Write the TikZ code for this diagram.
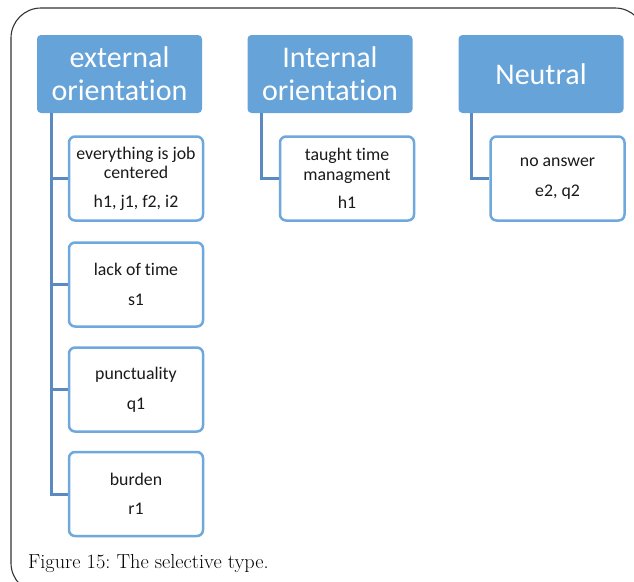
\documentclass[tikz,border=0pt]{standalone}
\usepackage{fontspec}
\newfontfamily\calib[Ligatures=NoCommon]{Carlito}
\definecolor{hdrfill}{HTML}{66A3D8}
\definecolor{kidborder}{HTML}{6FA8DC}
\definecolor{linkcol}{HTML}{5A8AC0}
\definecolor{txtdark}{HTML}{1A1A1A}
\definecolor{framecol}{HTML}{333333}
\tikzset{
  hdr/.style={rectangle, rounded corners=4pt, fill=hdrfill, draw=none,
    minimum width=165pt, minimum height=78pt, inner sep=0pt,
    text=white, align=center, font=\calib\fontsize{30}{33}\selectfont},
  kid/.style={rectangle, rounded corners=6pt, fill=white, draw=kidborder, line width=2.5pt,
    minimum width=134pt, minimum height=84pt, inner sep=0pt,
    text=txtdark, align=center, font=\calib\fontsize{17.8}{19.5}\selectfont},
  link/.style={draw=linkcol, line width=3pt},
}
\begin{document}
\frenchspacing
\begin{tikzpicture}[x=1pt,y=-1pt]
\useasboundingbox (0,0) rectangle (634,581);
\begin{scope}
\clip (0,0) rectangle (634,581);
\draw[framecol, line width=1.1pt, rounded corners=30pt] (11,8) rectangle (645,593);
\end{scope}
% headers
\node[hdr] (ext) at (119.5,74) {external\\orientation};
\node[hdr] (int) at (330,74) {Internal\\orientation};
\node[hdr] (neu) at (541,74) {Neutral};
% children
\node[kid] (e1) at (136,178.5) {everything is job\\centered\\[9pt]h1, j1, f2, i2};
\node[kid] (e2) at (136,284.5) {lack of time\\[10pt]s1};
\node[kid] (e3) at (136,389.5) {punctuality\\[10pt]q1};
\node[kid] (e4) at (136,494) {burden\\[10pt]r1};
\node[kid] (i1) at (347,178.5) {taught time\\managment\\[9pt]h1};
\node[kid] (n1) at (557.5,178.5) {no answer\\[10pt]e2, q2};
% connectors
\draw[link] ([xshift=15pt]ext.south west) |- (e1.west);
\draw[link] ([xshift=15pt]ext.south west) |- (e2.west);
\draw[link] ([xshift=15pt]ext.south west) |- (e3.west);
\draw[link] ([xshift=15pt]ext.south west) |- (e4.west);
\draw[link] ([xshift=14pt]int.south west) |- (i1.west);
\draw[link] ([xshift=13pt]neu.south west) |- (n1.west);
% caption
\node[anchor=base west, inner sep=0pt, font=\fontsize{20.3}{24}\selectfont] (cap) at (28,568) {Figure 15: The selective type.};
\end{tikzpicture}
\end{document}
